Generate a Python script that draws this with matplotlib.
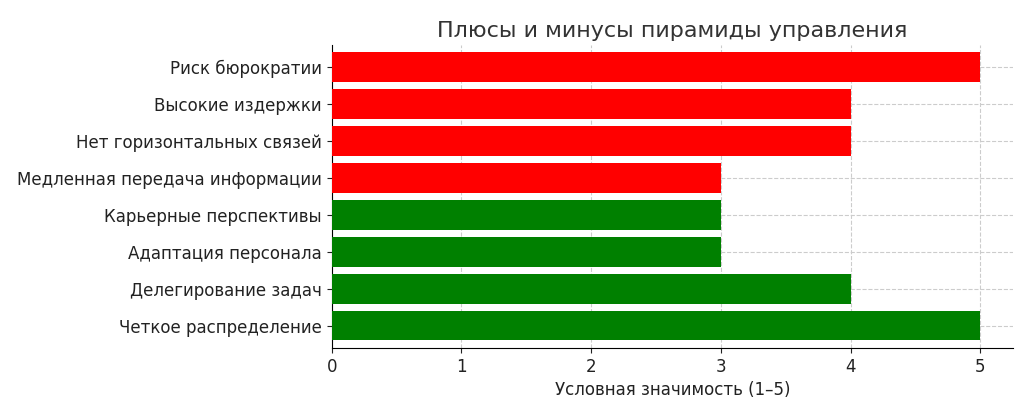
import matplotlib.pyplot as plt

labels = ["Четкое распределение", "Делегирование задач", "Адаптация персонала",
          "Карьерные перспективы", "Медленная передача информации",
          "Нет горизонтальных связей", "Высокие издержки", "Риск бюрократии"]
values = [5, 4, 3, 3, 3, 4, 4, 5]
colors = ["green"] * 4 + ["red"] * 4

fig = plt.figure(figsize=(10.24, 4.04), dpi=100)
ax = fig.add_axes([0.324, 0.139, 0.665, 0.75])
ax.barh(labels, values, color=colors, height=0.8, zorder=3)
ax.set_xlim(0, 5.25)
ax.set_ylim(-0.6, 7.6)
ax.grid(True, linestyle="--", color="#cccccc", linewidth=0.8, zorder=0)
for s in ["top", "right"]:
    ax.spines[s].set_visible(False)
ax.tick_params(labelsize=12, colors="#222222")
ax.set_xlabel("Условная значимость (1–5)", fontsize=12, color="#222222")
ax.set_title("Плюсы и минусы пирамиды управления", fontsize=16, color="#333333")
fig.savefig("out.png")
